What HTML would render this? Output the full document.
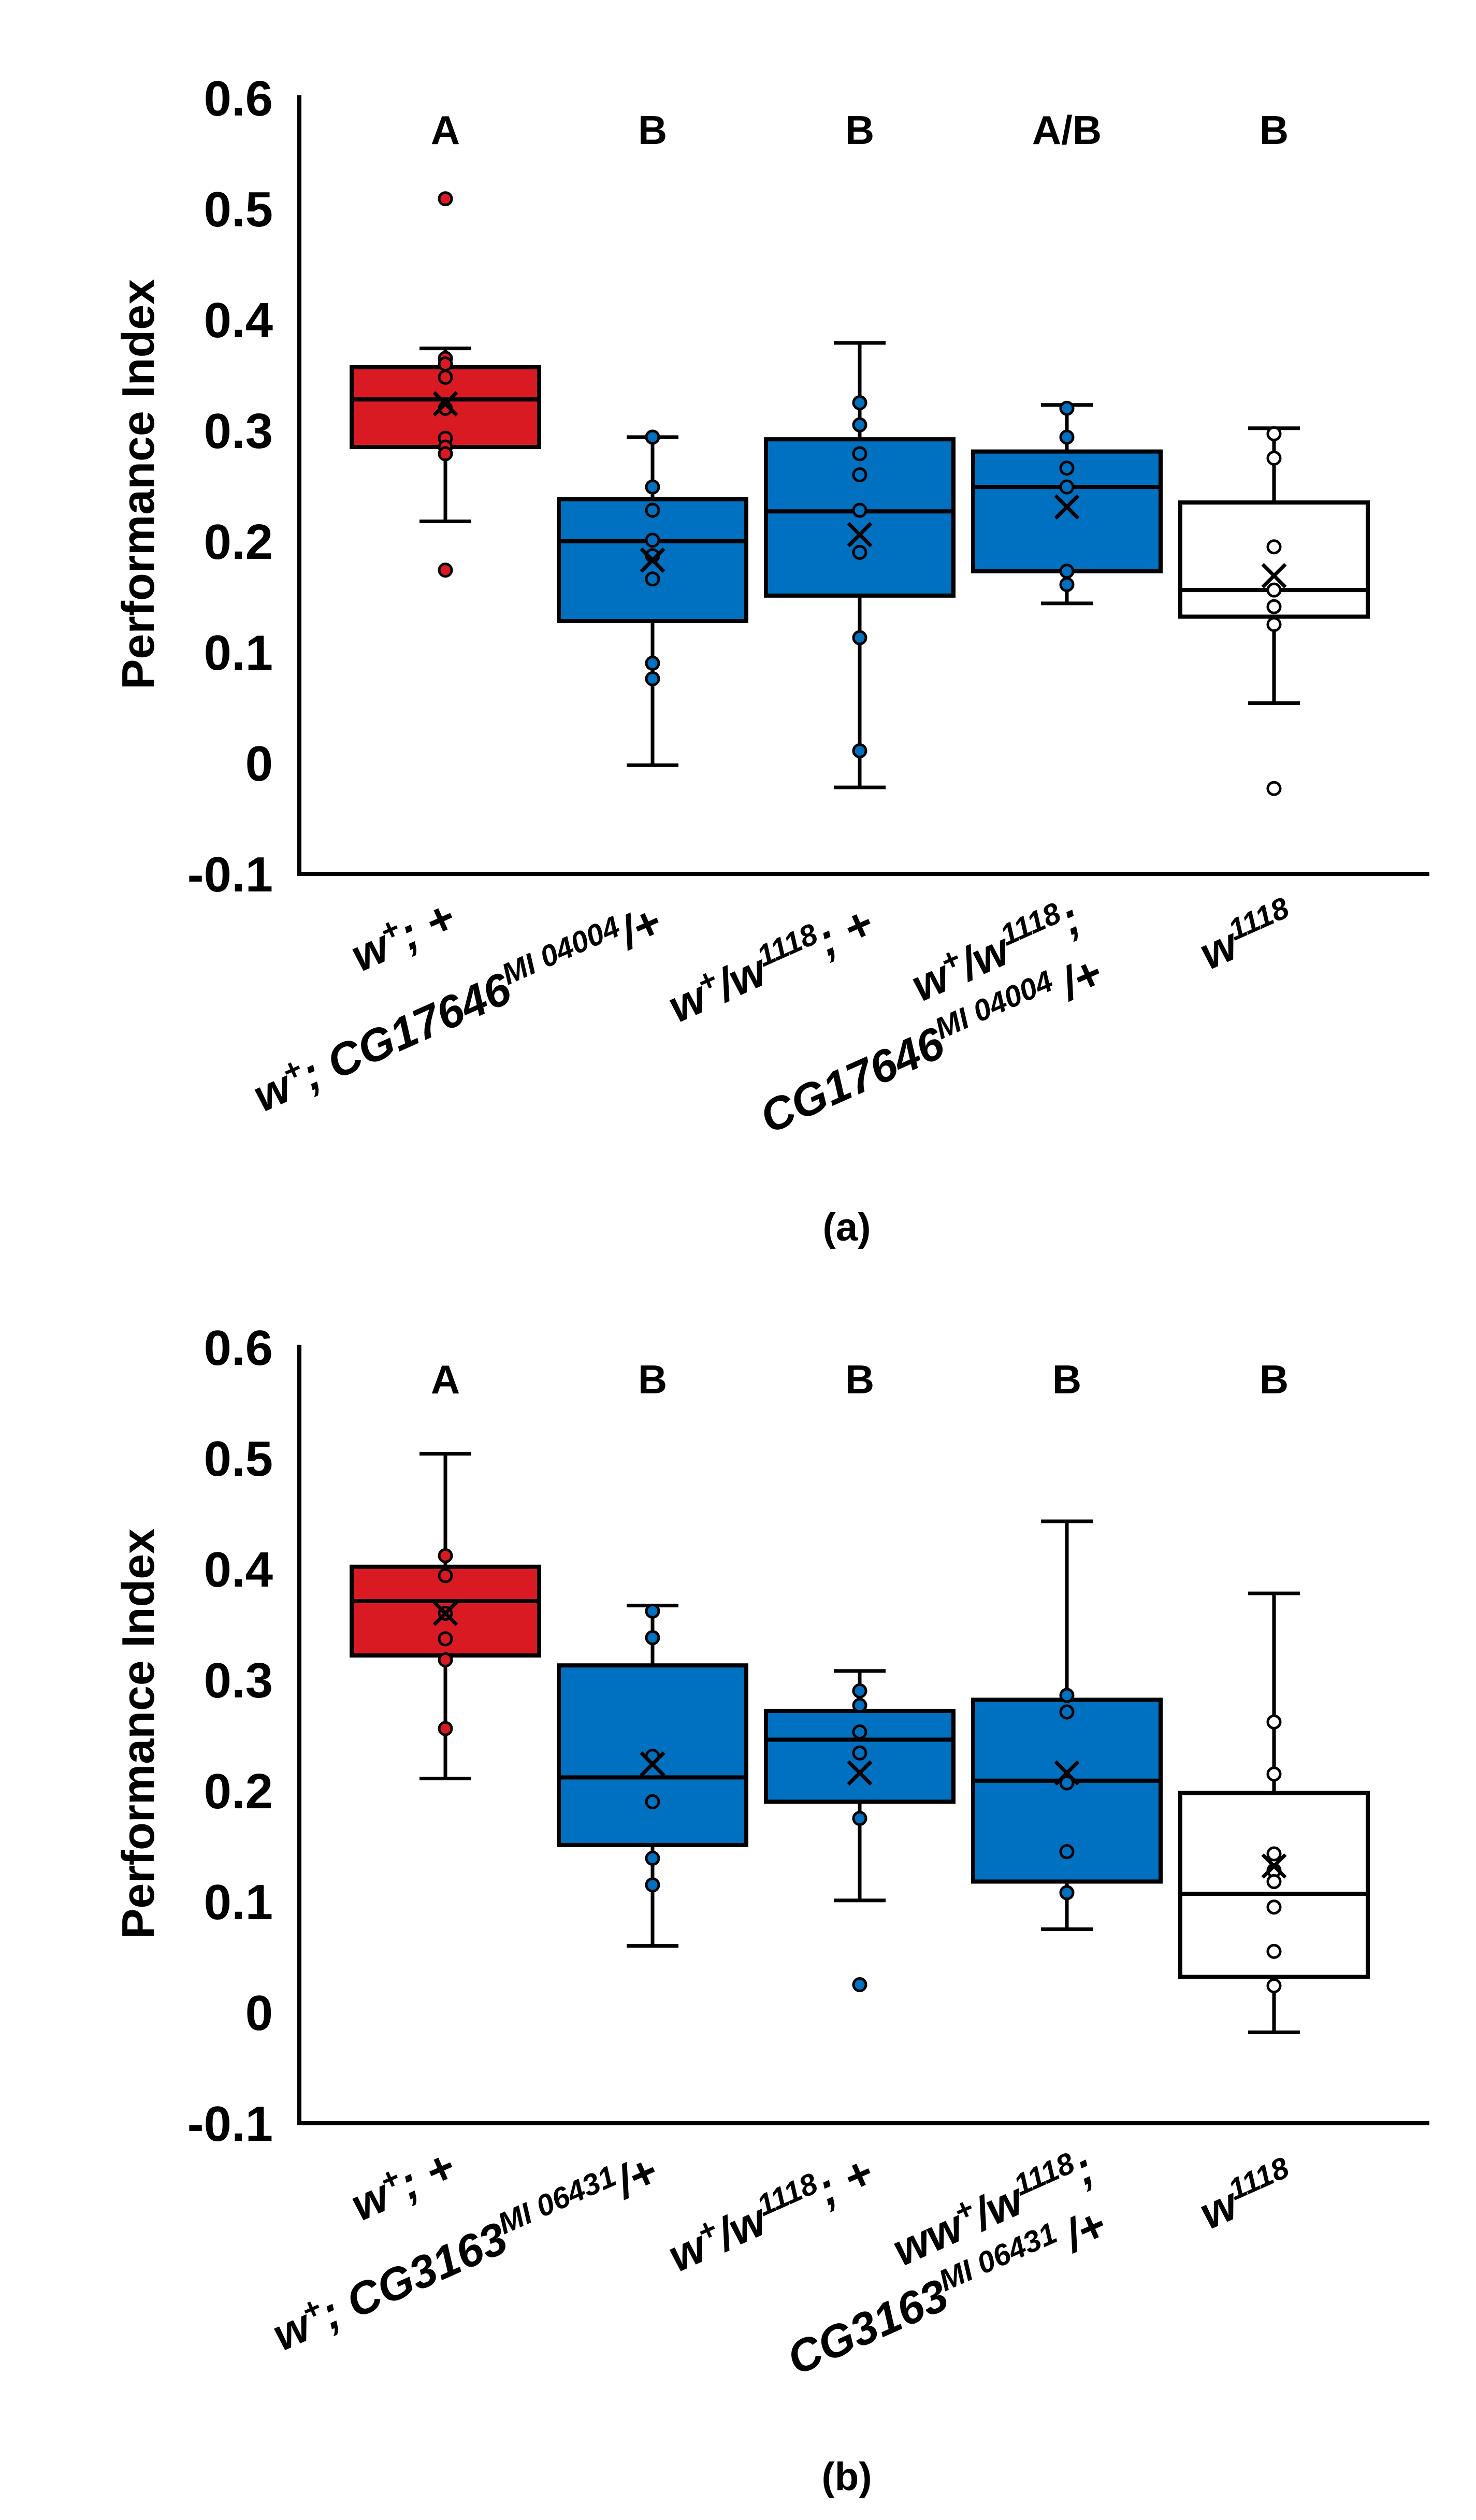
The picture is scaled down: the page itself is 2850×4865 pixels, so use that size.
<!DOCTYPE html>
<html><head><meta charset="utf-8">
<style>
html,body{margin:0;padding:0;background:#fff;}
svg{display:block;}
text{font-family:"Liberation Sans",Arial,sans-serif;font-weight:bold;fill:#000;}
</style></head>
<body>
<svg id="fig" width="2850" height="4865" viewBox="0 0 2850 4865" xmlns="http://www.w3.org/2000/svg">
<rect x="0" y="0" width="2850" height="4865" fill="#fff"/>
</svg>
<script>
// ---- data: panel (a) ----
const groupsA = ["w+; +", "w+; CG17646/+", "w+/w1118; +", "w+/w1118; CG17646/+", "w1118"];
const lettersA = ["A", "B", "B", "A/B", "B"];
const whiskerHighA = [0.374, 0.294, 0.379, 0.323, 0.302];
const q3A = [0.357, 0.238, 0.292, 0.281, 0.235];
const medianA = [0.328, 0.200, 0.227, 0.249, 0.156];
const q1A = [0.285, 0.128, 0.151, 0.173, 0.132];
const whiskerLowA = [0.218, -0.002, -0.022, 0.144, 0.054];
const meanA = [0.324, 0.183, 0.206, 0.231, 0.169];
const pointsA = [
  [0.509, 0.365, 0.360, 0.348, 0.320, 0.293, 0.285, 0.279, 0.174],
  [0.294, 0.249, 0.228, 0.201, 0.187, 0.166, 0.090, 0.076],
  [0.325, 0.305, 0.279, 0.260, 0.228, 0.190, 0.113, 0.011],
  [0.320, 0.294, 0.266, 0.249, 0.173, 0.161],
  [0.297, 0.275, 0.195, 0.156, 0.141, 0.125, -0.023]
];
// ---- data: panel (b) ----
const groupsB = ["w+; +", "w+; CG3163/+", "w+/w1118; +", "w+/w1118; CG3163/+", "w1118"];
const lettersB = ["A", "B", "B", "B", "B"];
const whiskerHighB = [0.504, 0.367, 0.308, 0.443, 0.378];
const q3B = [0.402, 0.313, 0.272, 0.282, 0.198];
const medianB = [0.371, 0.212, 0.246, 0.209, 0.107];
const q1B = [0.322, 0.151, 0.190, 0.118, 0.032];
const whiskerLowB = [0.211, 0.060, 0.101, 0.075, -0.018];
const meanB = [0.360, 0.224, 0.216, 0.216, 0.132];
const pointsB = [
  [0.412, 0.394, 0.360, 0.337, 0.318, 0.256],
  [0.362, 0.338, 0.231, 0.190, 0.139, 0.115],
  [0.290, 0.277, 0.253, 0.234, 0.175, 0.025],
  [0.286, 0.271, 0.207, 0.145, 0.108],
  [0.262, 0.215, 0.143, 0.128, 0.118, 0.095, 0.055, 0.024]
];
const yTicks = [0.6, 0.5, 0.4, 0.3, 0.2, 0.1, 0, -0.1];
const fills = ["#DA1A22", "#0070C0", "#0070C0", "#0070C0", "#FFFFFF"];

const NS = "http://www.w3.org/2000/svg";
const svg = document.getElementById("fig");
function mk(tag, attrs, parent) {
  const e = document.createElementNS(NS, tag);
  for (const k in attrs) e.setAttribute(k, attrs[k]);
  (parent || svg).appendChild(e);
  return e;
}

function panel(off, pfx, letters, wh, q3, med, q1, wl, mean, pts, labelsFn, caption) {
  const g = mk("g", {});
  
  
  const y = v => off + 1473 - v * 2140;
  const x = i => 860 + i * 400;
  const axisX = 578, axisR = 2760;
  yTicks.forEach(t => {
    const tx = mk("text", {x: 527, y: y(t) + 34, "font-size": 96, "text-anchor": "end"}, g);
    tx.textContent = (t === 0 ? "0" : String(t));
    
    
  });
  const ya = mk("line", {x1: axisX, y1: off + 184, x2: axisX, y2: y(-0.1) + 4, stroke: "#000", "stroke-width": 8}, g);
  
  
  const xa = mk("line", {x1: axisX - 4, y1: y(-0.1), x2: axisR, y2: y(-0.1), stroke: "#000", "stroke-width": 8}, g);
  
  
  const yt = mk("text", {x: 0, y: 0, "font-size": 88, "text-anchor": "middle", transform: "translate(297," + (off + 935) + ") rotate(-90)"}, g);
  yt.textContent = "Performance Index";
  
  
  const bw = 362, cap = 100;
  for (let i = 0; i < 5; i++) {
    const cx = x(i);
    const lt = mk("text", {x: cx, y: off + 278, "font-size": 78, "text-anchor": "middle"}, g);
    lt.textContent = letters[i];
    
    
    const wk = mk("path", {d: "M" + cx + "," + y(wh[i]) + "V" + y(q3[i]) + "M" + cx + "," + y(q1[i]) + "V" + y(wl[i]) +
      "M" + (cx - cap/2) + "," + y(wh[i]) + "H" + (cx + cap/2) + "M" + (cx - cap/2) + "," + y(wl[i]) + "H" + (cx + cap/2),
      stroke: "#000", "stroke-width": 7, fill: "none"}, g);
    
    
    const bx = mk("rect", {x: cx - bw/2, y: y(q3[i]), width: bw, height: y(q1[i]) - y(q3[i]), fill: fills[i], stroke: "#000", "stroke-width": 8}, g);
    
    
    const md = mk("line", {x1: cx - bw/2, x2: cx + bw/2, y1: y(med[i]), y2: y(med[i]), stroke: "#000", "stroke-width": 8}, g);
    
    
    pts[i].forEach(v => {
      const c = mk("circle", {cx: cx, cy: y(v), r: 12, fill: fills[i], stroke: "#000", "stroke-width": 5}, g);
      
      
    });
    const my = y(mean[i]), s = 22;
    const mx = mk("path", {d: "M" + (cx - s) + "," + (my - s) + "L" + (cx + s) + "," + (my + s) + "M" + (cx + s) + "," + (my - s) + "L" + (cx - s) + "," + (my + s), stroke: "#000", "stroke-width": 7}, g);
    
    
  }
  labelsFn(g, off);
  const cp = mk("text", {x: 1635, y: off + 2395, "font-size": 76, "text-anchor": "middle", "font-weight": "normal"}, g);
  cp.textContent = caption;
  
  
}

function label(g, cx, cy, parts, name) {
  const t = mk("text", {x: 0, y: 0, "font-size": 88, "font-style": "italic", "text-anchor": "middle",
    transform: "translate(" + cx + "," + cy + ") rotate(-24)"}, g);
  
  
  let sup = false;
  parts.forEach(p => {
    const ts = document.createElementNS(NS, "tspan");
    if (p[1] && !sup) { ts.setAttribute("dy", -32); ts.setAttribute("font-size", 58); sup = true; }
    else if (!p[1] && sup) { ts.setAttribute("dy", 32); sup = false; }
    else if (p[1]) { ts.setAttribute("font-size", 58); }
    ts.textContent = p[0];
    t.appendChild(ts);
  });
}

function labelsA(g, off) {
  label(g, 790, off + 1835, [["w"], ["+", 1], ["; +"]], "x-label-wplus");
  label(g, 895, off + 1975, [["w"], ["+", 1], ["; CG17646"], ["MI 04004", 1], ["/+"]], "x-label-wplus-cg");
  label(g, 1500, off + 1890, [["w"], ["+", 1], ["/w"], ["1118", 1], ["; +"]], "x-label-wplus-w1118");
  label(g, 1935, off + 1865, [["w"], ["+", 1], ["/w"], ["1118", 1], [";"]], "x-label-het-line1");
  label(g, 1810, off + 2045, [["CG17646"], ["MI 04004 ", 1], ["/+"]], "x-label-het-line2");
  label(g, 2420, off + 1835, [["w"], ["1118", 1]], "x-label-w1118");
}
function labelsB(g, off) {
  label(g, 790, off + 1835, [["w"], ["+", 1], ["; +"]], "x-label-wplus");
  label(g, 910, off + 1965, [["w"], ["+", 1], ["; CG3163"], ["MI 06431", 1], ["/+"]], "x-label-wplus-cg");
  label(g, 1500, off + 1890, [["w"], ["+", 1], ["/w"], ["1118", 1], ["; +"]], "x-label-wplus-w1118");
  label(g, 1930, off + 1880, [["ww"], ["+", 1], ["/w"], ["1118", 1], [";"]], "x-label-het-line1");
  label(g, 1840, off + 2040, [["CG3163"], ["MI 06431 ", 1], ["/+"]], "x-label-het-line2");
  label(g, 2420, off + 1855, [["w"], ["1118", 1]], "x-label-w1118");
}

panel(0, "panel-a", lettersA, whiskerHighA, q3A, medianA, q1A, whiskerLowA, meanA, pointsA, labelsA, "(a)");
panel(2412, "panel-b", lettersB, whiskerHighB, q3B, medianB, q1B, whiskerLowB, meanB, pointsB, labelsB, "(b)");
</script>
</body></html>
